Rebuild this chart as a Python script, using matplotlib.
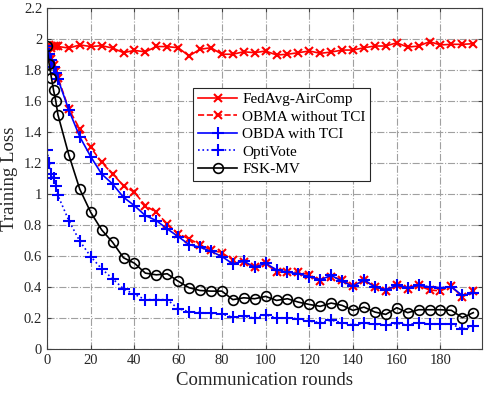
"""
training loss vs communication rounds
"""
import numpy as np
import matplotlib
matplotlib.use('Agg')
import matplotlib.pyplot as plt

plt.rcParams['font.family'] = ['Liberation Serif', 'DejaVu Serif']
plt.rcParams['mathtext.fontset'] = 'stix'

# rounds: 0..5 then every 5
rounds = [0, 1, 2, 3, 4, 5] + list(range(10, 200, 5))

fedavg = [1.95, 1.96, 1.94, 1.95, 1.95, 1.95,
          1.94, 1.96, 1.95, 1.955, 1.94, 1.91, 1.925, 1.915, 1.95,
          1.949, 1.942, 1.889, 1.932, 1.942, 1.90, 1.90, 1.916, 1.91, 1.921,
          1.895, 1.90, 1.91, 1.921, 1.906, 1.914, 1.927, 1.927, 1.942, 1.953,
          1.953, 1.974, 1.946, 1.953, 1.981, 1.96, 1.964, 1.964, 1.968]

obma = [1.95, 1.91, 1.87, 1.83, 1.79, 1.75,
        1.546, 1.418, 1.30, 1.203, 1.128, 1.053, 1.01, 0.924, 0.881,
        0.806, 0.742, 0.71, 0.673, 0.639, 0.62, 0.575, 0.56, 0.527, 0.553,
        0.495, 0.495, 0.495, 0.48, 0.437, 0.467, 0.446, 0.403, 0.446, 0.399,
        0.375, 0.41, 0.385, 0.41, 0.38, 0.375, 0.405, 0.335, 0.375]

obda = [1.95, 1.90, 1.86, 1.82, 1.78, 1.74,
        1.54, 1.368, 1.24, 1.128, 1.064, 0.978, 0.924, 0.86, 0.828,
        0.774, 0.725, 0.673, 0.656, 0.63, 0.596, 0.549, 0.566, 0.527, 0.553,
        0.51, 0.495, 0.485, 0.467, 0.446, 0.474, 0.437, 0.403, 0.446, 0.399,
        0.382, 0.41, 0.395, 0.41, 0.40, 0.395, 0.40, 0.345, 0.36]

optivote = [1.28, 1.20, 1.13, 1.10, 1.05, 0.99,
            0.827, 0.695, 0.596, 0.517, 0.453, 0.388, 0.352, 0.318, 0.318,
            0.318, 0.26, 0.24, 0.235, 0.23, 0.225, 0.205, 0.21, 0.2, 0.22,
            0.2, 0.2, 0.195, 0.18, 0.17, 0.185, 0.17, 0.155, 0.165, 0.16,
            0.155, 0.165, 0.155, 0.17, 0.16, 0.16, 0.16, 0.13, 0.145]

fskmv = [1.95, 1.835, 1.75, 1.668, 1.60, 1.51,
         1.25, 1.03, 0.881, 0.768, 0.688, 0.588, 0.553, 0.489, 0.478,
         0.485, 0.437, 0.395, 0.377, 0.373, 0.373, 0.318, 0.33, 0.324, 0.339,
         0.313, 0.324, 0.302, 0.287, 0.275, 0.296, 0.281, 0.249, 0.27, 0.238,
         0.223, 0.266, 0.234, 0.253, 0.253, 0.253, 0.249, 0.202, 0.234]

fig = plt.figure(figsize=(4.88, 3.95), dpi=100)
ax = fig.add_axes([0.0963, 0.1165, 0.8914, 0.864])

ax.plot(rounds, fedavg, '-x', color='red', lw=1.2, ms=6, mew=1.5, label='FedAvg-AirComp')
ax.plot(rounds, obma, '--x', color='red', lw=1.2, ms=6, mew=1.5, label='OBMA without TCI')
ax.plot(rounds, obda, '-+', color='blue', lw=1.2, ms=8, mew=1.5, label='OBDA with TCI')
ax.plot(rounds, optivote, ':+', color='blue', lw=1.2, ms=8, mew=1.5, label='OptiVote')
ax.plot(rounds, fskmv, '-o', color='black', lw=1.2, ms=7, mew=1.2, mfc='none', label='FSK-MV')

ax.set_xlim(0, 199)
ax.set_ylim(0, 2.2)
ax.set_xticks(np.arange(0, 181, 20))
ax.set_yticks(np.arange(0, 2.21, 0.2))
ax.set_yticklabels(['0', '0.2', '0.4', '0.6', '0.8', '1', '1.2', '1.4', '1.6', '1.8', '2', '2.2'])

ax.grid(True, linestyle='-.', color='#a0a0a0', lw=0.8)
ax.tick_params(direction='in', top=True, right=True, labelsize=10.5, colors='#404040',
               labelcolor='#262626', length=3)
for s in ax.spines.values():
    s.set_color('#404040')
    s.set_linewidth(0.8)

ax.set_xlabel('Communication rounds', fontsize=13.5, color='#262626', labelpad=4)
ax.set_ylabel('Training Loss', fontsize=13.5, color='#262626', labelpad=4)

leg = ax.legend(loc='upper left', bbox_to_anchor=(0.336, 0.765), fontsize=11,
                handlelength=2.6, labelspacing=0.25, borderpad=0.3, handletextpad=0.3,
                fancybox=False, framealpha=1, edgecolor='#262626', borderaxespad=0)
leg.get_frame().set_linewidth(0.8)

fig.savefig('out.png', dpi=100)
